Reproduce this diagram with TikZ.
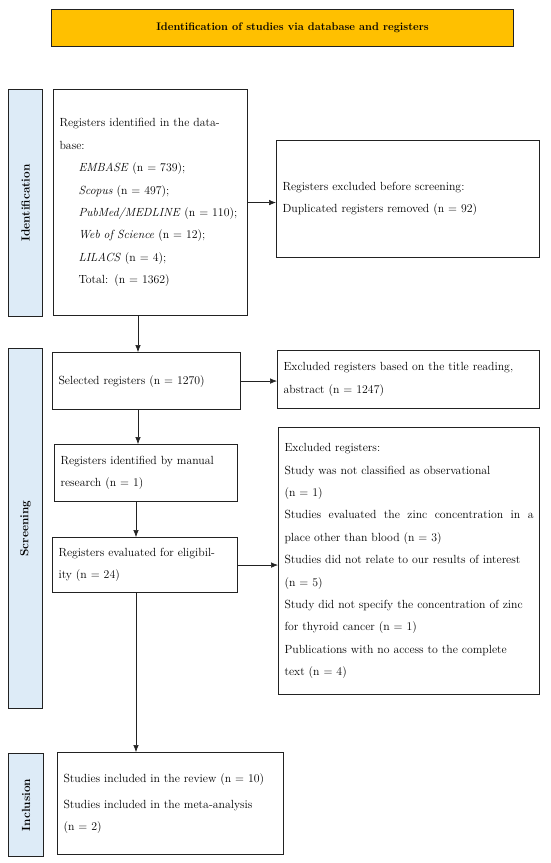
\documentclass[tikz,border=0pt]{standalone}
\usetikzlibrary{arrows.meta}
\definecolor{titleorange}{HTML}{FFC000}
\definecolor{sidebar}{HTML}{DDEBF7}
\definecolor{edge}{HTML}{222222}
\tikzset{
  box/.style={draw=edge, line width=1.1pt, fill=white, anchor=north west, inner xsep=6pt, inner ysep=0pt, align=left, font=\fontsize{11.8}{22.4}\selectfont},
  sidebox/.style={draw=edge, line width=1.1pt, fill=sidebar, anchor=north west, inner sep=0pt},
  sidelabel/.style={rotate=90, font=\fontsize{11.8}{13}\selectfont\bfseries},
  arr/.style={-{Latex[length=7pt,width=5.5pt]}, line width=0.6pt, draw=edge},
}
\begin{document}
\begin{tikzpicture}[x=1pt,y=-1pt]
\useasboundingbox (0,0) rectangle (550,863);
% title
\node[draw=edge, line width=1.1pt, fill=titleorange, anchor=north west, minimum width=462, minimum height=37, font=\fontsize{11}{13}\selectfont\bfseries] (title) at (51,9) {\hspace*{20pt}Identification of studies via database and registers};
% sidebars
\node[sidebox, minimum width=34, minimum height=227] (sid) at (8,89) {};
\node[sidelabel] (sidl) at (sid.center) {Identification};
\node[sidebox, minimum width=34, minimum height=360] (sscr) at (8,348) {};
\node[sidelabel] (sscrl) at (sscr.center) {Screening};
\node[sidebox, minimum width=35, minimum height=103] (sinc) at (8,753) {};
\node[sidelabel] (sincl) at (sinc.center) {Inclusion};
% main boxes
\node[box, minimum width=194, minimum height=226, text width=182] (b1) at (53,89) {Registers identified in the data-\\base:\\
\hspace*{19pt}\textit{EMBASE} (n = 739);\\
\hspace*{19pt}\textit{Scopus} (n = 497);\\
\hspace*{19pt}\textit{PubMed/MEDLINE} (n = 110);\\
\hspace*{19pt}\textit{Web of Science} (n = 12);\\
\hspace*{19pt}\textit{LILACS} (n = 4);\\
\hspace*{19pt}Total: (n = 1362)};
\node[box, minimum width=263, minimum height=117, text width=251] (e1) at (276,140) {Registers excluded before screening:\\Duplicated registers removed (n = 92)};
\node[box, minimum width=188, minimum height=57, text width=176] (b2) at (52,352) {Selected registers (n = 1270)};
\node[box, minimum width=262, minimum height=58, text width=250] (e2) at (277,350) {Excluded registers based on the title reading,\\abstract (n = 1247)};
\node[box, minimum width=183, minimum height=57, text width=171] (b3) at (54,444) {Registers identified by manual\\research (n = 1)};
\node[box, minimum width=185, minimum height=55, text width=173] (b4) at (52,537) {Registers evaluated for eligibil-\\ity (n = 24)};
\node[box, minimum width=261, minimum height=267, text width=249] (e3) at (278,427) {Excluded registers:\\
Study was not classified as observational\\
(n = 1)\\
\leavevmode\hbox to 249pt{Studies\hfill evaluated\hfill the\hfill zinc\hfill concentration\hfill in\hfill a}\\
place other than blood (n = 3)\\
Studies did not relate to our results of interest\\
(n = 5)\\
Study did not specify the concentration of zinc\\
for thyroid cancer (n = 1)\\
Publications with no access to the complete\\
text (n = 4)};
\node[box, minimum width=226, minimum height=102, text width=214] (b5) at (57,752) {Studies included in the review (n = 10)\\[4pt]Studies included in the meta-analysis\\(n = 2)};
% arrow guides
\coordinate (ax1) at (138,0);
\coordinate (ax2) at (136,0);
% connectors
\draw[arr] (b1.south -| ax1) -- (b2.north -| ax1);
\draw[arr] (b2.south -| ax1) -- (b3.north -| ax1);
\draw[arr] (b3.south -| ax2) -- (b4.north -| ax2);
\draw[arr] (b4.south -| ax2) -- (b5.north -| ax2);
\draw[arr] (b1.east) -- (b1.east -| e1.west);
\draw[arr] (b2.east) -- (b2.east -| e2.west);
\draw[arr] (b4.east) -- (b4.east -| e3.west);
\end{tikzpicture}
\end{document}
